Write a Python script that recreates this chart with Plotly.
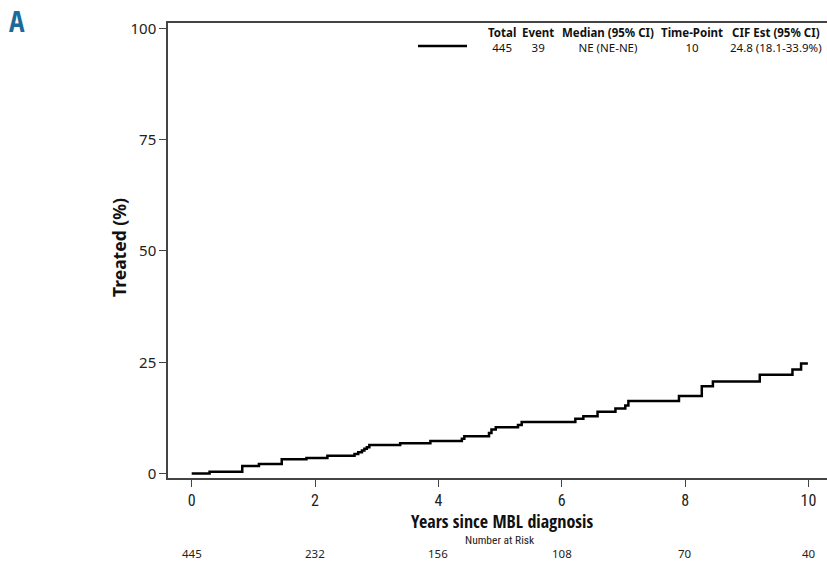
import plotly.graph_objects as go

# ---- data ----
times = [0, 0.29, 0.82, 1.09, 1.46, 1.86, 2.20, 2.64, 2.70, 2.76, 2.80, 2.84, 2.88,
         3.38, 3.87, 4.38, 4.42, 4.82, 4.86, 4.93, 5.29, 5.35, 6.22, 6.35, 6.58,
         6.87, 7.03, 7.08, 7.90, 8.27, 8.45, 9.21, 9.74, 9.88, 9.99]
cif = [0, 0.4, 1.7, 2.15, 3.2, 3.5, 4.0, 4.4, 4.8, 5.2, 5.6, 5.9, 6.4,
       6.8, 7.3, 7.85, 8.4, 9.1, 9.9, 10.4, 10.9, 11.6, 12.3, 12.9, 13.9,
       14.6, 15.3, 16.3, 17.4, 19.6, 20.7, 22.2, 23.4, 24.7, 24.7]

x_ticks = [0, 2, 4, 6, 8, 10]
y_ticks = [0, 25, 50, 75, 100]
risk_n = [445, 232, 156, 108, 70, 40]

table_headers = ["Total", "Event", "Median (95% CI)", "Time-Point", "CIF Est (95% CI)"]
table_row = ["445", "39", "NE (NE-NE)", "10", "24.8 (18.1-33.9%)"]

W, H = 827, 563
L, R, T, B = 168, 0, 23, 85
PW, PH = W - L - R, H - T - B


def px(x):
    return (x - L) / PW


def py(y):
    return (H - B - y) / PH


SANS = "Noto Sans, Open Sans, DejaVu Sans, sans-serif"
COND = "Roboto Condensed, DejaVu Sans Condensed, sans-serif"
BOLDCOND = "Open Sans Condensed, Roboto Condensed, sans-serif"

fig = go.Figure()
fig.add_trace(go.Scatter(x=times, y=cif, mode="lines", line=dict(color="black", width=2.5, shape="hv"),
                         showlegend=False, hoverinfo="skip"))

fig.update_layout(
    width=W, height=H, margin=dict(l=L, r=R, t=T, b=B),
    paper_bgcolor="white", plot_bgcolor="white",
    xaxis=dict(range=[-0.384, 10.30], tickvals=x_ticks, ticktext=[str(v) for v in x_ticks],
               showgrid=False, zeroline=False, showline=True, linecolor="#444", linewidth=1.5,
               mirror=True, ticks="outside", ticklen=7, tickcolor="#444", tickwidth=1,
               tickfont=dict(family=COND, size=16, color="#222")),
    yaxis=dict(range=[-0.99, 101.2], tickvals=y_ticks, ticktext=[str(v) for v in y_ticks],
               showgrid=False, zeroline=False, showline=True, linecolor="#444", linewidth=1.5,
               ticks="outside", ticklen=7, tickcolor="#444", tickwidth=1,
               tickfont=dict(family=SANS, size=15, color="#222")),
)

ann = []
# panel letter
ann.append(dict(x=px(17), y=py(20), xref="paper", yref="paper", text="<b>A</b>", showarrow=False,
                font=dict(family=BOLDCOND, size=29, color="#1a6a9a"), xanchor="center", yanchor="middle"))
# y title
ann.append(dict(x=px(119), y=py(248), xref="paper", yref="paper", text="<b>Treated (%)</b>", showarrow=False,
                textangle=-90, font=dict(family=SANS, size=17.5, color="#111"), xanchor="center", yanchor="middle"))
# x title
ann.append(dict(x=px(502), y=py(520.5), xref="paper", yref="paper", text="<b>Years since MBL diagnosis</b>",
                showarrow=False, borderpad=0,
                font=dict(family=BOLDCOND, size=18, color="#111"), xanchor="center", yanchor="middle"))
ann.append(dict(x=px(500), y=py(539.5), xref="paper", yref="paper", text="Number at Risk",
                showarrow=False, borderpad=0,
                font=dict(family=COND, size=11.5, color="#222"), xanchor="center", yanchor="middle"))
for t, n in zip(x_ticks, risk_n):
    ann.append(dict(x=t, y=py(553), xref="x", yref="paper", text=str(n), showarrow=False, borderpad=0,
                    font=dict(family=SANS, size=11.5, color="#222"), xanchor="center", yanchor="middle"))

# legend table: one two-line annotation per column
col_centers = [501.5, 538, 608, 691.5, 776]
for cx, h, r in zip(col_centers, table_headers, table_row):
    ann.append(dict(x=px(cx), y=py(40.5), xref="paper", yref="paper", text="<b>" + h + "</b><br>" + r,
                    showarrow=False, align="center", borderpad=0,
                    font=dict(family=SANS, size=11.5, color="#111"), xanchor="center", yanchor="middle"))
fig.update_layout(annotations=ann)

fig.add_shape(type="line", xref="paper", yref="paper", x0=px(418), x1=px(467), y0=py(46), y1=py(46),
              line=dict(color="black", width=2.5))

fig.write_html("out.html", config={"displayModeBar": False},
               post_script="document.body.style.margin='0';")
